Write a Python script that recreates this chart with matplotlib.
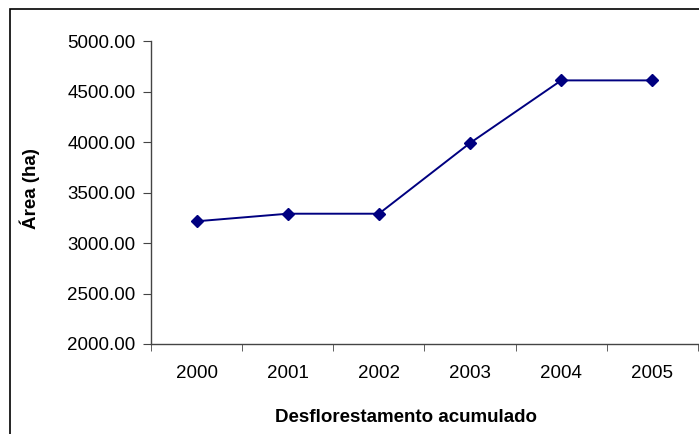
import matplotlib
matplotlib.use("Agg")
import matplotlib.pyplot as plt
from matplotlib.patches import Rectangle
import numpy as np

# Data
anos = ["2000", "2001", "2002", "2003", "2004", "2005"]
area = [3215, 3290, 3290, 3990, 4610, 4610]
yticks = [2000, 2500, 3000, 3500, 4000, 4500, 5000]

plt.rcParams["font.family"] = ["Liberation Sans", "DejaVu Sans"]

W, H = 699, 434
fig = plt.figure(figsize=(W / 100, H / 100), dpi=100)

# outer chart border (open at right and bottom edge of the image)
fig.patches.append(Rectangle((10 / W, -0.05), 1.1, 1 - 9 / H + 0.05,
                             transform=fig.transFigure, fill=False,
                             edgecolor="black", lw=1.2))

ax = fig.add_axes([151 / W, 1 - 344 / H, (698 - 151) / W, (344 - 41) / H])
x = np.arange(len(anos))
ax.plot(x, area, color="#000080", lw=1.4, marker="D", ms=6.5,
        markeredgecolor="#000080", markerfacecolor="#000080")

ax.set_xlim(-0.5, len(anos) - 0.5)
ax.set_ylim(2000, 5000)
ax.set_yticks(yticks)
ax.set_yticklabels([f"{v:.2f}" for v in yticks])
ax.set_xticks(x)
ax.set_xticklabels(anos)
ax.set_xticks(np.arange(len(anos) + 1) - 0.5, minor=True)
ax.tick_params(axis="x", which="major", length=0, pad=15, labelsize=13.5)
ax.tick_params(axis="x", which="minor", length=5, color="#444444")
ax.tick_params(axis="y", length=6, pad=5, labelsize=13.5, color="#444444")

for s in ["top", "right"]:
    ax.spines[s].set_visible(False)
for s in ["left", "bottom"]:
    ax.spines[s].set_color("#444444")
    ax.spines[s].set_linewidth(1.0)

fig.text(406 / W, 1 - 418 / H, "Desflorestamento acumulado", ha="center",
         va="center", fontsize=13.5, fontweight="bold")
fig.text(30 / W, 1 - 189 / H, "Área (ha)", ha="center", va="center",
         rotation=90, fontsize=13.5, fontweight="bold")

fig.savefig("out.png", dpi=100)
